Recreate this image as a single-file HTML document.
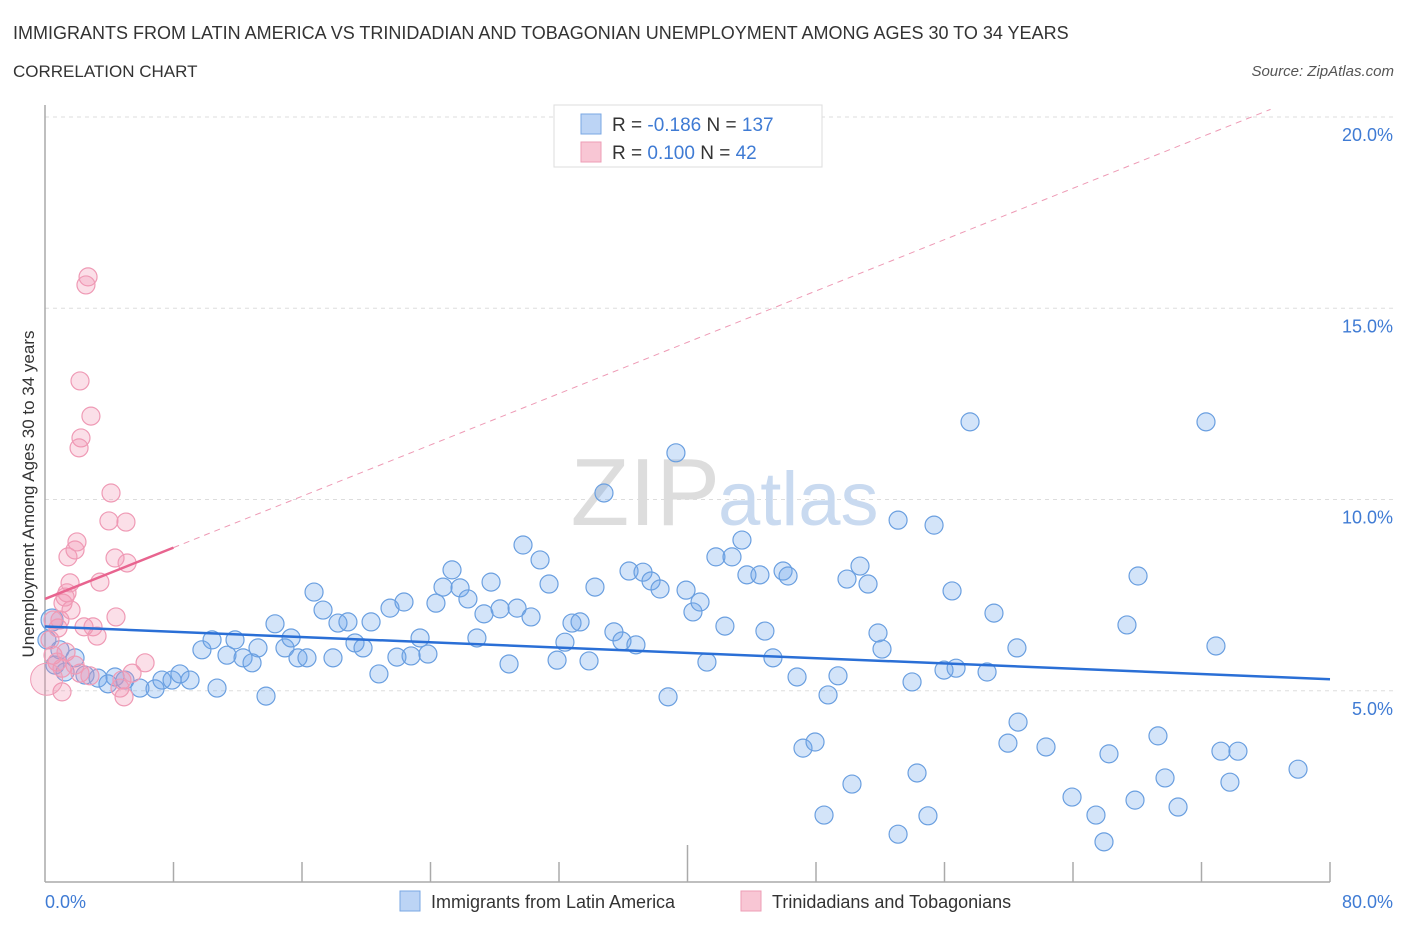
<!DOCTYPE html>
<html><head><meta charset="utf-8"><style>
body{margin:0;background:#fff;font-family:"Liberation Sans",sans-serif;}
svg text{font-family:"Liberation Sans",sans-serif;}
</style></head><body>
<svg id="chart" width="1406" height="930" xmlns="http://www.w3.org/2000/svg">
<text x="13" y="39" font-size="18" fill="#333">IMMIGRANTS FROM LATIN AMERICA VS TRINIDADIAN AND TOBAGONIAN UNEMPLOYMENT AMONG AGES 30 TO 34 YEARS</text>
<text x="13" y="77" font-size="17" fill="#333">CORRELATION CHART</text>
<text x="1394" y="76" font-size="15" fill="#555" font-style="italic" text-anchor="end">Source: ZipAtlas.com</text>
<g id="grid"></g>
<text x="720" y="525" font-size="96" fill="#ddd" font-family="Liberation Serif" text-anchor="end">ZIP</text>
<text x="718" y="525" font-size="76" fill="#c9daf0">atlas</text>
<g id="pts"></g>
<g id="lines"></g>
<text transform="translate(34,494) rotate(-90)" font-size="17" fill="#333" text-anchor="middle">Unemployment Among Ages 30 to 34 years</text>
<text x="45" y="908" font-size="18" fill="#3f7bd4">0.0%</text>
<text x="1393" y="908" font-size="18" fill="#3f7bd4" text-anchor="end">80.0%</text>
<g>
<rect x="554" y="105" width="268" height="62" fill="#fff" stroke="#ddd"/>
<rect x="581" y="114" width="20" height="20" fill="#bcd4f5" stroke="#7aa7e3"/>
<rect x="581" y="142" width="20" height="20" fill="#f8c6d4" stroke="#ee9db6"/>
<text x="612" y="131" font-size="19" fill="#333">R = <tspan fill="#3f7bd4">-0.186</tspan>   N = <tspan fill="#3f7bd4">137</tspan></text>
<text x="612" y="159" font-size="19" fill="#333">R =  <tspan fill="#3f7bd4">0.100</tspan>   N =  <tspan fill="#3f7bd4">42</tspan></text>
</g>
<g>
<rect x="400" y="891" width="20" height="20" fill="#bcd4f5" stroke="#7aa7e3"/>
<text x="431" y="908" font-size="18" fill="#333">Immigrants from Latin America</text>
<rect x="741" y="891" width="20" height="20" fill="#f8c6d4" stroke="#ee9db6"/>
<text x="772" y="908" font-size="18" fill="#333">Trinidadians and Tobagonians</text>
</g>
</svg>
<script>
const NS="http://www.w3.org/2000/svg";
const yTicks=[5,10,15,20];
const yTickLabels=["5.0%","10.0%","15.0%","20.0%"];
const blueTrend=[6.68,5.3];
const pinkTrend=[7.4,20.2];
const bluePx=[[52,620],[60,650],[75,658],[85,675],[98,678],[115,677],[125,680],[140,688],[155,689],[162,680],[172,680],[180,674],[190,680],[202,650],[212,640],[217,688],[227,655],[235,640],[243,658],[252,663],[258,648],[266,696],[275,624],[285,648],[291,638],[298,658],[307,658],[314,592],[323,610],[333,658],[338,623],[348,622],[355,643],[363,648],[371,622],[379,674],[390,608],[397,657],[404,602],[411,656],[420,638],[428,654],[436,603],[443,587],[452,570],[460,588],[468,599],[477,638],[484,614],[491,582],[500,609],[509,664],[517,608],[523,545],[531,617],[540,560],[549,584],[557,660],[565,642],[572,623],[580,622],[589,661],[595,587],[604,493],[614,632],[622,641],[629,571],[636,645],[643,572],[651,581],[660,589],[668,697],[676,453],[686,590],[693,612],[700,602],[707,662],[716,557],[725,626],[732,557],[742,540],[747,575],[760,575],[765,631],[773,658],[783,571],[788,576],[797,677],[803,748],[815,742],[824,815],[828,695],[838,676],[847,579],[852,784],[860,566],[868,584],[878,633],[882,649],[898,834],[898,520],[912,682],[917,773],[928,816],[934,525],[944,670],[952,591],[956,668],[970,422],[987,672],[994,613],[1008,743],[1018,722],[1017,648],[1046,747],[1072,797],[1096,815],[1104,842],[1109,754],[1127,625],[1135,800],[1138,576],[1158,736],[1165,778],[1178,807],[1206,422],[1216,646],[1221,751],[1230,782],[1238,751],[1298,769],[47,640],[55,665],[65,672],[108,684]];
const pinkPx=[[50,640],[53,655],[57,662],[62,668],[66,652],[58,628],[60,620],[63,603],[67,593],[71,610],[65,597],[68,557],[75,550],[77,542],[70,583],[80,673],[84,627],[88,277],[86,285],[80,381],[91,416],[81,438],[79,448],[93,627],[97,636],[100,582],[111,493],[109,521],[115,558],[116,617],[126,522],[127,563],[122,680],[124,697],[120,688],[132,673],[145,663],[53,620],[90,676],[75,665],[62,692]];
// convert to data values (x %, y %)
const blueX=bluePx.map(p=>+((p[0]-45)/16.0625).toFixed(2));
const blueY=bluePx.map(p=>+((882-p[1])/38.25).toFixed(2));
const pinkX=pinkPx.map(p=>+((p[0]-45)/16.0625).toFixed(2));
const pinkY=pinkPx.map(p=>+((882-p[1])/38.25).toFixed(2));
const X=v=>45+v*16.0625, Y=v=>882-v*38.25;
function mk(t,a,parent){const e=document.createElementNS(NS,t);for(const k in a)e.setAttribute(k,a[k]);parent.appendChild(e);return e;}
const grid=document.getElementById('grid');
yTicks.forEach((t,i)=>{
 const l=mk('line',{x1:45,x2:1395,y1:Y(t),y2:Y(t),stroke:'#ddd','stroke-dasharray':'4,4'},grid);
 
 
 const tx=mk('text',{x:1393,y:Y(t)+24,'font-size':18,fill:'#3f7bd4','text-anchor':'end'},grid);
 tx.textContent=yTickLabels[i];
 
 
});
mk('line',{x1:45,x2:45,y1:105,y2:882,stroke:'#aaa','stroke-width':1.5},grid);
mk('line',{x1:45,x2:1330,y1:882,y2:882,stroke:'#aaa','stroke-width':1.5},grid);
for(let i=1;i<=10;i++){const x=X(i*8);const t=mk('line',{x1:x,x2:x,y1:i==5?845:862,y2:882,stroke:'#aaa','stroke-width':1.5},grid);
 
 }
const pts=document.getElementById('pts');
blueX.forEach((x,i)=>{const c=mk('circle',{cx:X(x),cy:Y(blueY[i]),r:i==0?11:9,fill:'rgba(110,165,235,0.3)',stroke:'#6a9fe0','stroke-width':1.2},pts);
 
 });
pinkX.forEach((x,i)=>{const c=mk('circle',{cx:X(x),cy:Y(pinkY[i]),r:9,fill:'rgba(242,150,180,0.3)',stroke:'#ef9ab5','stroke-width':1.2},pts);
 
 });
const big=mk('circle',{cx:X(0.1),cy:Y(5.3),r:16,fill:'rgba(242,150,180,0.3)',stroke:'#ef9ab5'},pts);


const lines=document.getElementById('lines');
const b=mk('line',{x1:X(0),y1:Y(blueTrend[0]),x2:X(80),y2:Y(blueTrend[1]),stroke:'#2a6fd6','stroke-width':2.5},lines);


const slope=(pinkTrend[1]-pinkTrend[0])/76.3;
const p1=mk('line',{x1:X(0),y1:Y(pinkTrend[0]),x2:X(8),y2:Y(pinkTrend[0]+slope*8),stroke:'#e8648f','stroke-width':2.5},lines);


const p2=mk('line',{x1:X(8),y1:Y(pinkTrend[0]+slope*8),x2:X(76.3),y2:Y(pinkTrend[1]),stroke:'#ee9ab5','stroke-width':1,'stroke-dasharray':'6,5'},lines);


</script>
</body></html>
